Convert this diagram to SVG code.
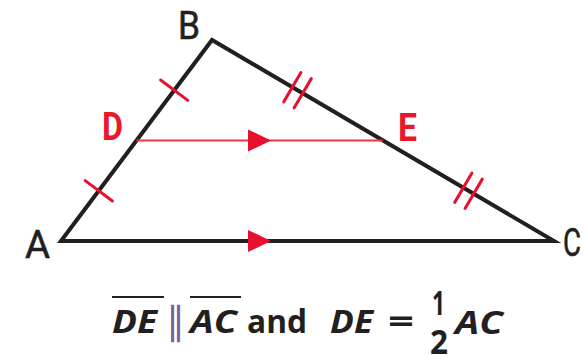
<svg xmlns="http://www.w3.org/2000/svg" width="585" height="356" viewBox="0 0 585 356">
  <style>
    .edge { fill: none; stroke: #231f20; stroke-width: 4; stroke-linejoin: miter; }
    .mid { stroke: #ec3448; stroke-width: 2.2; }
    .tick { stroke: #e8112d; stroke-width: 3; stroke-linecap: round; }
    .arrow { fill: #e8112d; }
    .vlabel { font-family: Roboto, "Liberation Sans", sans-serif; font-size: 39px; fill: #231f20; stroke: #231f20; stroke-width: 0.6; }
    .plabel { font-family: Roboto, "Liberation Sans", sans-serif; font-weight: bold; font-size: 38px; fill: #e8192c; }
    .cap { font-family: "Open Sans", "Noto Sans", sans-serif; font-weight: 700; font-size: 33px; fill: #231f20; }
    .num { font-size: 34px; }
    .it { font-style: italic; }
    .bar { stroke: #231f20; stroke-width: 2.2; }
  </style>
  <rect width="585" height="356" fill="#ffffff"/>

  <g id="connectors">
    <polygon id="triangle" class="edge" points="61,241 212,40 554,241"/>
    <line id="midsegment-DE" class="mid" x1="136.5" y1="140.5" x2="383" y2="140.5"/>
    <polygon class="arrow" points="248,129.5 271,140.5 248,151.5"/>
    <polygon class="arrow" points="248,230 271,241 248,252"/>
    <g id="ticks">
      <line class="tick" x1="85.2" y1="180.6" x2="112.4" y2="201"/>
      <line class="tick" x1="160.6" y1="80" x2="187.8" y2="100.4"/>
      <g transform="translate(297.5,90.25) rotate(30.44)">
        <line class="tick" x1="-6" y1="-17" x2="-6" y2="17"/>
        <line class="tick" x1="6" y1="-17" x2="6" y2="17"/>
      </g>
      <g transform="translate(468.5,190.75) rotate(30.44)">
        <line class="tick" x1="-6" y1="-17" x2="-6" y2="17"/>
        <line class="tick" x1="6" y1="-17" x2="6" y2="17"/>
      </g>
    </g>
  </g>

  <g id="node-A"><text class="vlabel" x="25" y="258" textLength="25" lengthAdjust="spacingAndGlyphs">A</text></g>
  <g id="node-B"><text class="vlabel" x="178" y="39" textLength="22" lengthAdjust="spacingAndGlyphs">B</text></g>
  <g id="node-C"><text class="vlabel" x="563" y="256" textLength="18" lengthAdjust="spacingAndGlyphs">C</text></g>
  <g id="node-D"><text class="plabel" x="102" y="140" textLength="21" lengthAdjust="spacingAndGlyphs">D</text></g>
  <g id="node-E"><text class="plabel" x="398" y="141" textLength="19" lengthAdjust="spacingAndGlyphs">E</text></g>

  <g id="caption">
    <text class="cap it" x="112" y="333" textLength="45" lengthAdjust="spacingAndGlyphs">DE</text>
    <line class="bar" x1="112" y1="297" x2="164" y2="297"/>
    <text x="166" y="334" font-family="DejaVu Sans, sans-serif" font-size="38" fill="#7d5f9f">∥</text>
    <text class="cap it" x="190" y="333" textLength="47" lengthAdjust="spacingAndGlyphs">AC</text>
    <line class="bar" x1="190" y1="297" x2="241" y2="297"/>
    <text class="cap" x="247" y="333" textLength="60" lengthAdjust="spacingAndGlyphs">and</text>
    <text class="cap it" x="330" y="333" textLength="43" lengthAdjust="spacingAndGlyphs">DE</text>
    <text class="cap" x="388" y="333" textLength="26" lengthAdjust="spacingAndGlyphs">=</text>
    <text class="cap num" x="432" y="315" textLength="13" lengthAdjust="spacingAndGlyphs">1</text>
    <text class="cap num" x="430" y="354" textLength="18" lengthAdjust="spacingAndGlyphs">2</text>
    <text class="cap it" x="455" y="334" textLength="48" lengthAdjust="spacingAndGlyphs">AC</text>
  </g>
</svg>
